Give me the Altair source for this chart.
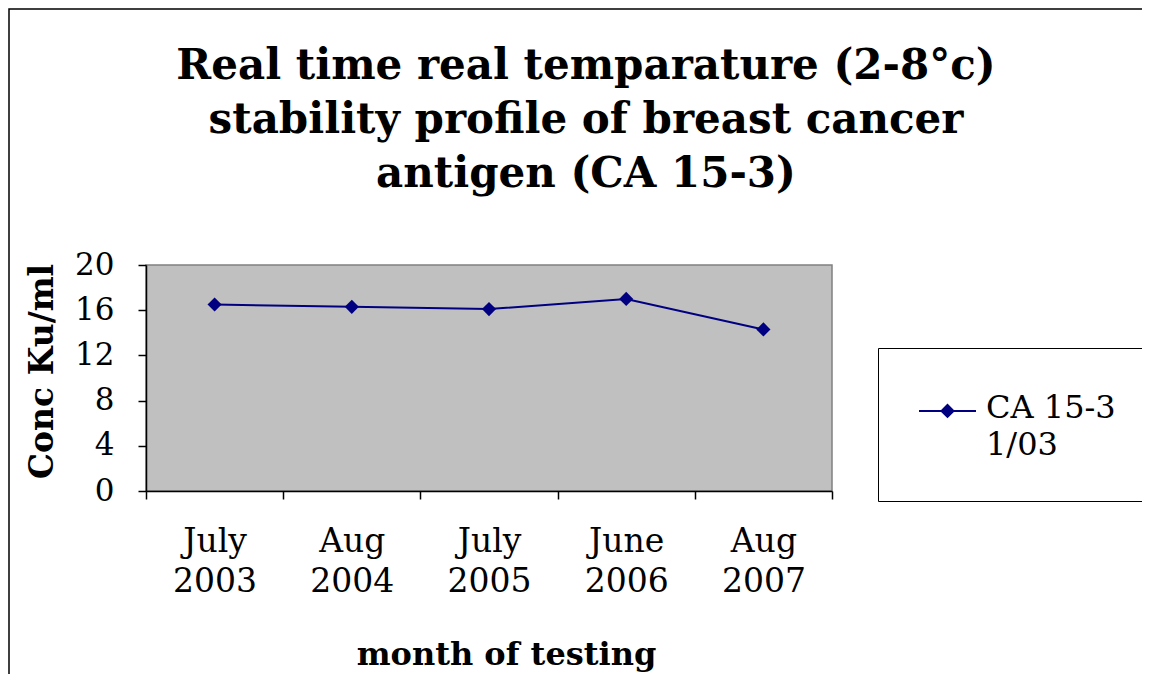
import json
import altair as alt
import pandas as pd

# ---- data ----
months = ["July 2003", "Aug 2004", "July 2005", "June 2006", "Aug 2007"]
conc = [16.5, 16.3, 16.1, 17.0, 14.3]
series_name = "CA 15-3\n1/03"
y_ticks = [0, 4, 8, 12, 16, 20]
title_lines = [
    "Real time real temparature (2-8°c)",
    "stability profile of breast cancer",
    "antigen (CA 15-3)",
]
x_title = "month of testing"
y_title = "Conc Ku/ml"

n = len(months)
df = pd.DataFrame({
    "pos": list(range(1, n + 1)),
    "month": months,
    "conc": conc,
    "series": [series_name] * n,
})

x_tick_values = [i / 2 for i in range(1, 2 * n + 2)]
label_expr = (
    f"datum.value % 1 == 0 ? split({json.dumps(months)}[datum.value - 1], ' ') : ''"
)

NAVY = "#000080"
FONT = "DejaVu Serif"

legend_symbol = "M-1,-0.23L1,-0.23M0,-0.44L0.21,-0.23L0,-0.02L-0.21,-0.23Z"

x_enc = alt.X(
    "pos:Q",
    scale=alt.Scale(domain=[0.5, n + 0.5], nice=False, zero=False),
    axis=alt.Axis(
        values=x_tick_values,
        labelExpr=label_expr,
        tickColor={"condition": {"test": "datum.value % 1 == 0", "value": "transparent"}, "value": "black"},
        tickSize=8,
        tickWidth=1.5,
        labelFont=FONT,
        labelFontSize=33,
        labelLineHeight=40,
        labelPadding=26,
        labelBaseline="top",
        labelOverlap=False,
        labelFlush=False,
        labelBound=False,
        labelColor="black",
        domainColor="black",
        domainWidth=1.5,
        grid=False,
        title=x_title,
        titleFont=FONT,
        titleFontSize=32,
        titleFontWeight="bold",
        titleColor="black",
        titleX=360,
        titleY=173,
        titleBaseline="alphabetic",
        titleAlign="center",
    ),
)

y_enc = alt.Y(
    "conc:Q",
    scale=alt.Scale(domain=[0, 20], nice=False),
    axis=alt.Axis(
        values=y_ticks,
        tickSize=8,
        tickWidth=1.5,
        tickColor="black",
        labelFont=FONT,
        labelFontSize=31,
        labelPadding=24,
        labelColor="black",
        domainColor="black",
        domainWidth=1.5,
        grid=False,
        title=y_title,
        titleFont=FONT,
        titleFontSize=33,
        titleFontWeight="bold",
        titleColor="black",
        titleX=-94,
        titleY=106,
        titleBaseline="alphabetic",
        titleAngle=270,
    ),
)

color_enc = alt.Color(
    "series:N",
    scale=alt.Scale(range=[NAVY]),
    legend=alt.Legend(
        title=None,
        orient="none",
        legendX=732,
        legendY=83,
        padding=40,
        strokeColor="black",
        fillColor="white",
        symbolType=legend_symbol,
        symbolSize=3249,
        symbolStrokeWidth=2,
        symbolFillColor=NAVY,
        symbolStrokeColor=NAVY,
        labelFont=FONT,
        labelFontSize=32,
        labelOffset=9,
        labelLimit=400,
        labelBaseline="alphabetic",
        labelColor="black",
        labelExpr="split(datum.label, '\\n')",
    ),
)

line = alt.Chart(df).mark_line(strokeWidth=2).encode(x=x_enc, y=y_enc, color=color_enc)
pts = alt.Chart(df).mark_point(shape="diamond", filled=True, size=200, opacity=1).encode(
    x="pos:Q", y="conc:Q", color=alt.Color("series:N")
)

frame = alt.Chart(alt.Data(values=[{}])).mark_rect(
    fill="transparent", stroke="black", strokeWidth=1.5
).encode(
    x=alt.value(-137), x2=alt.value(1200), y=alt.value(-256), y2=alt.value(500)
)

chart = alt.layer(frame, line, pts).properties(
    width=686,
    height=226,
    padding={"left": 138, "top": 257, "right": 310, "bottom": 183},
    autosize=alt.AutoSizeParams(type="none"),
    background="white",
    title=alt.TitleParams(
        text=title_lines,
        font=FONT,
        fontSize=42,
        fontWeight="bold",
        anchor="middle",
        dx=97,
        dy=192,
        lineHeight=54,
        color="black",
    ),
).configure(
    style={"guide-label": {"lineHeight": 37}},
).configure_view(
    fill="#C0C0C0", stroke="#808080", strokeWidth=1.5
)

chart.save("out.html", embed_options={"renderer": "svg", "actions": False})
